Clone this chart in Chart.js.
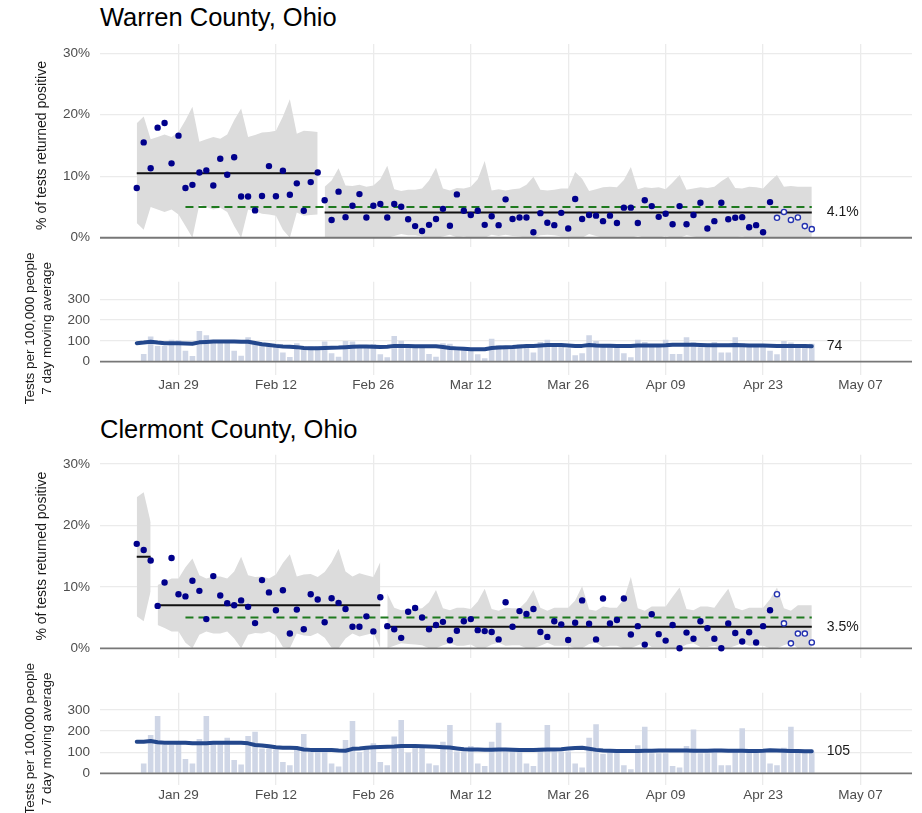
<!DOCTYPE html>
<html><head><meta charset="utf-8">
<script src="https://cdn.jsdelivr.net/npm/chart.js@4.4.1/dist/chart.umd.min.js"></script>
<style>
html,body{margin:0;padding:0;background:#fff;}
body{width:922px;height:813px;overflow:hidden;position:relative;font-family:'Liberation Sans',Arial,sans-serif;}
.title{position:absolute;left:100px;font-size:25.5px;line-height:1;color:#000;white-space:nowrap;}
canvas{position:absolute;left:0;}
</style></head>
<body>
<div class="title" style="top:5px">Warren County, Ohio</div>
<div class="title" style="top:416.5px">Clermont County, Ohio</div>
<canvas id="cA" width="922" height="230" style="top:30px"></canvas>
<canvas id="cB" width="922" height="160" style="top:252px"></canvas>
<canvas id="cC" width="922" height="230" style="top:440px"></canvas>
<canvas id="cD" width="922" height="163" style="top:650px"></canvas>
<script>
// ---------------- DATA ----------------
const firstDate = '2021-01-23';            // first day of every daily series below
const xTickDates  = ['2021-01-29','2021-02-12','2021-02-26','2021-03-12','2021-03-26','2021-04-09','2021-04-23','2021-05-07'];
const xTickLabels = ['Jan 29','Feb 12','Feb 26','Mar 12','Mar 26','Apr 09','Apr 23','May 07'];
const pctTicks   = [0, 10, 20, 30];
const testTicks  = [0, 100, 200, 300];

// Warren County: % of tests returned positive (daily)
const warrenPositivity = [
  8.1,15.5,11.3,17.9,18.65,12.1,16.6,8.1,8.6,10.6,10.95,8.5,12.85,10.25,13.1,6.7,6.7,4.45,6.8,11.65,6.75,10.9,7.0,8.85,4.4,9.05,10.6,
  6.1,2.9,7.5,3.35,5.2,7.1,3.3,5.2,5.5,3.3,
  5.5,5.05,3.0,1.9,1.1,2.1,3.05,4.7,1.95,7.05,
  4.4,3.7,4.4,2.1,3.5,2.05,6.25,3.05,3.3,3.3,
  0.9,4.0,2.45,2.05,4.05,1.5,6.3,3.05,3.7,3.6,
  2.7,3.6,2.4,4.9,4.9,2.4,6.1,5.15,3.4,3.9,
  2.2,5.15,2.2,3.7,5.7,1.5,2.7,5.7,3.0,3.25,
  3.35,1.7,2.05,0.9,5.8,3.25,4.2,2.9,3.3,1.9,1.4
];
const warrenUpper = [
  18.6,19.7,16.0,16.4,16.8,16.4,17.2,19.1,21.3,15.6,16.0,16.4,16.1,16.8,19.1,21.0,16.4,16.7,17.1,17.2,17.4,19.7,22.5,16.9,17.4,17.3,17.2,
  8.3,9.3,11.3,8.5,8.4,8.6,8.3,8.5,9.5,11.7,
  7.9,7.6,7.8,7.8,8.0,9.3,11.4,8.0,7.7,8.1,
  8.0,8.3,9.5,12.5,7.7,7.9,7.7,7.9,8.0,8.6,
  9.9,7.8,7.7,7.8,8.0,8.0,10.7,9.6,7.6,7.9,
  8.2,8.3,8.2,9.4,11.5,7.9,8.2,8.1,8.2,7.9,
  9.0,10.2,7.8,8.0,8.2,8.1,8.3,9.2,9.9,8.1,
  8.0,8.3,8.2,8.0,9.2,10.2,8.3,8.4,8.3,8.3,8.3
];
const warrenLower = [
  2.4,1.3,5.0,4.6,4.2,4.6,3.8,1.9,0,5.4,5.0,4.6,4.9,4.2,1.9,0,4.6,4.3,3.9,3.8,3.6,1.3,0,4.1,3.6,3.7,3.8,
  0,0,0,0,0,0,0,0,0,0,
  0.3,0.6,0.4,0.4,0.2,0,0,0.2,0.5,0.1,
  0.2,0,0,0,0.5,0.3,0.5,0.3,0.2,0,
  0,0.4,0.5,0.4,0.2,0.2,0,0,0.6,0.3,
  0,0,0,0,0,0.3,0,0.1,0,0.3,
  0,0,0.4,0.2,0,0.1,0,0,0,0.1,
  0.2,0,0,0.2,0,0,0,0,0,0,0
];
const warrenSegStart = ['2021-01-23','2021-02-19'];
const warrenSegEnd   = ['2021-02-18','2021-04-30'];
const warrenSegMean  = [10.5, 4.1];
const warrenTarget   = 5;
const warrenTargetFrom = '2021-01-30', warrenTargetTo = '2021-04-30';
const warrenProvisionalFrom = '2021-04-25';

// Warren County: tests per 100,000 people
const warrenTests = [
  null,37,121,76,76,105,104,53,27,148,127,100,100,100,52,29,118,89,81,81,86,44,23,89,73,73,73,
  97,40,24,100,97,76,78,85,36,21,
  124,101,81,76,76,37,24,89,86,70,
  66,60,36,16,110,79,70,73,84,70,
  44,95,105,86,73,65,31,40,127,100,
  81,81,81,40,21,105,95,76,76,106,
  37,37,118,94,70,70,95,44,44,118,
  89,76,73,76,52,36,100,92,76,76,86
];
const warrenTests7 = [
  89,92,96,92,89,89,89,88,86,93,95,97,97,97,97,96,96,90,84,80,76,73,72,70,66,65,65,
  66,67,68,70,72,73,73,72,71,72,
  76,75,75,74,74,74,74,71,66,64,
  62,60,60,60,66,68,70,71,73,75,
  76,78,80,80,80,78,76,76,80,78,
  77,77,76,76,76,78,78,78,78,79,
  81,81,82,81,80,79,79,79,79,80,
  79,78,78,78,77,76,76,76,75,75,74
];

// Clermont County
const clermontPositivity = [
  17.0,16.0,14.3,
  6.9,10.7,14.7,8.8,8.45,11.0,9.35,4.75,11.75,8.6,7.35,7.0,7.8,6.75,4.1,11.1,9.1,6.2,9.45,2.4,6.3,3.1,8.8,7.95,4.25,8.15,7.4,6.4,3.5,3.5,5.2,2.75,8.3,
  3.6,3.1,1.7,5.95,6.55,5.0,3.1,3.8,4.3,1.3,
  2.85,4.4,4.75,2.95,2.8,2.65,1.45,7.5,3.5,6.05,
  5.6,6.4,2.65,1.85,4.4,3.9,1.35,4.15,7.8,4.0,
  1.45,8.1,4.05,4.6,8.1,2.25,3.6,0.6,5.55,2.3,
  1.25,3.8,0.0,2.55,1.55,4.4,3.25,1.55,0.0,4.05,
  2.5,1.1,2.6,0.95,3.6,6.2,8.8,4.05,0.8,2.4,
  2.4,0.95
];
const clermontUpper = [
  24.6,25.4,20.5,
  10.3,10.8,11.35,11.35,13.2,14.6,11.9,11.35,11.7,11.7,11.35,12.5,14.9,11.9,11.6,11.7,11.35,12.0,13.9,15.3,11.7,12.0,12.1,11.6,12.4,14.0,16.2,12.5,11.7,12.2,11.9,11.6,14.05,
  8.9,6.6,6.2,6.3,6.4,6.5,7.5,9.5,6.5,6.2,
  6.6,6.6,6.4,7.6,9.7,6.4,6.1,6.6,6.5,6.5,
  7.6,9.5,6.6,6.1,6.6,6.6,6.6,7.8,10.1,6.3,
  6.1,6.8,6.6,6.6,8.0,11.6,6.5,6.1,6.8,6.8,
  6.8,8.4,9.9,6.4,6.2,6.8,6.8,6.6,8.2,9.7,
  6.6,6.2,6.6,6.6,6.6,8.0,9.9,6.5,6.1,7.0,
  7.0,7.0
];
const clermontLower = [
  5.2,4.4,9.3,
  3.8,3.3,2.75,2.75,0.9,0,2.2,2.75,2.4,2.4,2.75,1.6,0,2.2,2.5,2.4,2.75,2.1,0.2,0,2.4,2.1,2.0,2.5,1.7,0.1,0,1.6,2.4,1.9,2.2,2.5,0.05,
  0,0.4,0.8,0.7,0.6,0.5,0,0,0.5,0.8,
  0.4,0.4,0.6,0,0,0.6,0.9,0.4,0.5,0.5,
  0,0,0.4,0.9,0.4,0.4,0.4,0,0,0.7,
  0.9,0.2,0.4,0.4,0,0,0.5,0.9,0.2,0.2,
  0.2,0,0,0.6,0.8,0.2,0.2,0.4,0,0,
  0.4,0.8,0.4,0.4,0.4,0,0,0.5,0.9,0,
  0,0
];
const clermontSegStart = ['2021-01-23','2021-01-26','2021-02-28'];
const clermontSegEnd   = ['2021-01-25','2021-02-27','2021-04-30'];
const clermontSegMean  = [14.9, 7.0, 3.5];
const clermontTarget   = 5;
const clermontTargetFrom = '2021-01-30', clermontTargetTo = '2021-04-30';
const clermontProvisionalFrom = '2021-04-25';

const clermontTests = [
  null,47,181,271,134,134,142,68,47,162,271,142,142,169,63,42,177,197,118,118,113,54,38,118,186,113,113,
  113,47,32,158,248,101,121,142,54,38,
  174,253,99,121,121,46,38,150,229,103,
  103,129,47,35,150,240,103,111,113,46,
  35,121,229,103,103,103,46,28,169,232,
  91,103,103,38,19,133,221,95,95,95,
  35,28,129,208,95,95,113,38,38,113,
  213,113,103,103,46,38,121,221,113,103,103
];
const clermontTests7 = [
  150,150,153,147,145,145,145,145,142,142,142,145,145,145,145,145,142,134,132,128,123,121,121,120,113,111,111,
  110,110,108,107,116,118,121,123,125,126,
  127,129,129,129,128,127,126,124,122,118,
  114,113,113,112,112,113,113,112,111,111,
  111,112,113,113,114,117,120,121,116,111,
  108,107,106,106,106,106,107,107,108,108,
  108,108,108,107,107,107,108,108,107,107,
  107,106,106,107,109,108,107,106,106,105,105
];

// ---------------- RENDERING ----------------
const FONT = "'Liberation Sans', Arial, sans-serif";
const DAY = 86400000;
const dayNum = s => Math.round(Date.parse(s + 'T00:00:00Z') / DAY);
const x0 = dayNum(firstDate);
const tickDayNums = xTickDates.map(dayNum);
const labelByDay = {}; tickDayNums.forEach((d, i) => labelByDay[d] = xTickLabels[i]);
const X_MIN = tickDayNums[0] - 11.28, X_MAX = tickDayNums[0] + 105.4;

const GRID = '#ebebeb';
const RIBBON = '#dcdcdc';
const POINT = '#00008b';

const zeroLinePlugin = {
  id: 'zeroLine',
  beforeDatasetDraw(chart, args) {
    if (!chart.data.datasets[args.index].zeroLineBefore) return;
    const {ctx, chartArea, scales: {y}} = chart;
    const py = y.getPixelForValue(0);
    ctx.save();
    ctx.strokeStyle = '#777777'; ctx.lineWidth = 1.8;
    ctx.beginPath(); ctx.moveTo(chartArea.left, py); ctx.lineTo(chartArea.right, py); ctx.stroke();
    ctx.restore();
  }
};
const endLabelPlugin = {
  id: 'endLabel',
  afterDatasetsDraw(chart, args, opts) {
    if (!opts || !opts.text) return;
    const {ctx, scales: {x, y}} = chart;
    ctx.save();
    ctx.font = '14px ' + FONT; ctx.fillStyle = '#1a1a1a';
    ctx.textAlign = 'left'; ctx.textBaseline = 'middle';
    ctx.fillText(opts.text, x.getPixelForValue(opts.x) + 15, y.getPixelForValue(opts.y));
    ctx.restore();
  }
};
const noPad = s => { s.paddingTop = 0; s.paddingBottom = 0; s.paddingLeft = 0; s.paddingRight = 0; };

function xScale(showLabels) {
  return {
    type: 'linear', min: X_MIN, max: X_MAX, offset: false,
    afterBuildTicks: s => { s.ticks = tickDayNums.map(v => ({value: v})); },
    ticks: { display: showLabels, autoSkip: false, maxRotation: 0, padding: 2,
      font: {family: FONT, size: 13.5}, color: '#4d4d4d',
      callback: v => labelByDay[v] || '' },
    grid: { color: GRID, lineWidth: 1.3, drawTicks: false, offset: false },
    border: { display: false },
    afterFit: s => { s.height = showLabels ? 25 : 0; noPad(s); }
  };
}
function yScale(min, max, ticks, fmt, title, titleSize, titlePad) {
  return {
    min, max,
    afterBuildTicks: s => { s.ticks = ticks.map(v => ({value: v})); },
    ticks: { padding: 10, font: {family: FONT, size: 13.5}, color: '#4d4d4d', callback: fmt },
    grid: { color: c => (c.tick && c.tick.value === 0) ? 'rgba(0,0,0,0)' : GRID, lineWidth: 1.3, drawTicks: false },
    border: { display: false },
    title: { display: true, text: title, color: '#1a1a1a', font: {family: FONT, size: titleSize, lineHeight: 1.2},
      padding: {top: titlePad, bottom: 0} },
    afterFit: s => { s.width = 100; noPad(s); }
  };
}
function baseOptions(pad, scales, endLabel) {
  return {
    responsive: false, animation: false, devicePixelRatio: 1, events: [],
    layout: { padding: { left: 0, right: 10, top: pad.top, bottom: pad.bottom } },
    plugins: { legend: {display: false}, tooltip: {enabled: false}, endLabel },
    scales
  };
}

function positivityChart(id, pad, values, upper, lower, segStart, segEnd, segMean, target, tFrom, tTo, provFrom) {
  const ds = [];
  segStart.forEach((s, k) => {
    const a = dayNum(s) - x0, b = dayNum(segEnd[k]) - x0;
    const up = [], lo = [];
    for (let i = a; i <= b; i++) { up.push({x: x0 + i, y: upper[i]}); lo.push({x: x0 + i, y: lower[i]}); }
    ds.push({type: 'line', data: up, fill: '+1', backgroundColor: RIBBON, borderWidth: 0, pointRadius: 0, order: 10});
    ds.push({type: 'line', data: lo, fill: false, borderWidth: 0, pointRadius: 0, order: 10});
  });
  ds.push({type: 'line', data: [{x: dayNum(tFrom), y: target}, {x: dayNum(tTo), y: target}],
    borderColor: '#1f7a1f', borderWidth: 2, borderDash: [8, 5], pointRadius: 0, order: 4, zeroLineBefore: true});
  segStart.forEach((s, k) => {
    ds.push({type: 'line', data: [{x: dayNum(s), y: segMean[k]}, {x: dayNum(segEnd[k]), y: segMean[k]}],
      borderColor: '#111111', borderWidth: 2, pointRadius: 0, order: 3});
  });
  const provIdx = dayNum(provFrom) - x0;
  const filled = [], open = [];
  values.forEach((v, i) => (i < provIdx ? filled : open).push({x: x0 + i, y: v}));
  ds.push({type: 'scatter', data: filled, pointRadius: 3.2, pointBackgroundColor: POINT, pointBorderColor: POINT, pointBorderWidth: 0, order: 1});
  ds.push({type: 'scatter', data: open, pointRadius: 2.6, pointBackgroundColor: '#ffffff', pointBorderColor: '#2432b0', pointBorderWidth: 1.4, order: 0});
  const lastDay = dayNum(segEnd[segEnd.length - 1]);
  const m = segMean[segMean.length - 1];
  new Chart(document.getElementById(id), {
    type: 'scatter',
    data: {datasets: ds},
    options: baseOptions(pad, {
      x: xScale(false),
      y: yScale(-1.5, 31.5, pctTicks, v => v + '%', '% of tests returned positive', 14, 34)
    }, {text: m.toFixed(1) + '%', x: lastDay, y: m}),
    plugins: [zeroLinePlugin, endLabelPlugin]
  });
}

function testsChart(id, pad, ymin, ymax, bars, avg) {
  const barData = bars.map((v, i) => ({x: x0 + i, y: v}));
  const lineData = avg.map((v, i) => ({x: x0 + i, y: v}));
  const last = avg[avg.length - 1];
  new Chart(document.getElementById(id), {
    type: 'scatter',
    data: {datasets: [
      {type: 'bar', data: barData, backgroundColor: '#cfd6e6', borderWidth: 0, barPercentage: 0.8, categoryPercentage: 1, order: 2},
      {type: 'line', data: lineData, borderColor: '#23478c', borderWidth: 4, pointRadius: 0, tension: 0, order: 1,
        borderCapStyle: 'round', borderJoinStyle: 'round', zeroLineBefore: true}
    ]},
    options: baseOptions(pad, {
      x: xScale(true),
      y: yScale(ymin, ymax, testTicks, v => String(v), ['Tests per 100,000 people', '7 day moving average'], 13.5, 22.6)
    }, {text: String(last), x: x0 + avg.length - 1, y: last}),
    plugins: [zeroLinePlugin, endLabelPlugin]
  });
}

positivityChart('cA', {top: 14, bottom: 13}, warrenPositivity, warrenUpper, warrenLower,
  warrenSegStart, warrenSegEnd, warrenSegMean, warrenTarget, warrenTargetFrom, warrenTargetTo, warrenProvisionalFrom);
testsChart('cB', {top: 29.7, bottom: 12}, -64, 384.6, warrenTests, warrenTests7);
positivityChart('cC', {top: 14.8, bottom: 12.5}, clermontPositivity, clermontUpper, clermontLower,
  clermontSegStart, clermontSegEnd, clermontSegMean, clermontTarget, clermontTargetFrom, clermontTargetTo, clermontProvisionalFrom);
testsChart('cD', {top: 42.7, bottom: 3.1}, -55, 382, clermontTests, clermontTests7);
</script>
</body></html>
